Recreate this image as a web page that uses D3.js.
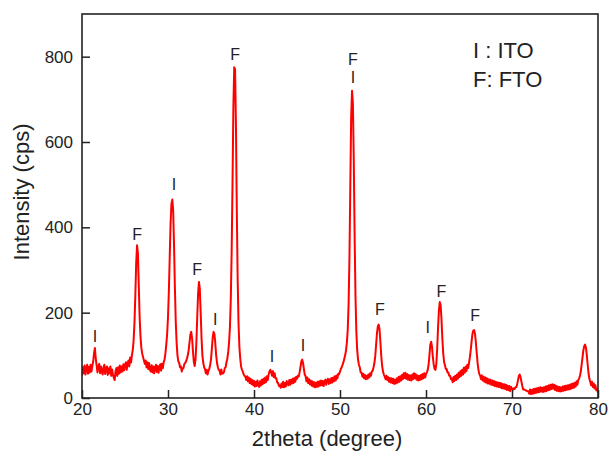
<!DOCTYPE html>
<html>
<head>
<meta charset="utf-8">
<script src="https://cdn.jsdelivr.net/npm/d3@7"></script>
<style>
  html, body { margin: 0; padding: 0; background: #fff; }
  svg { display: block; font-family: Arial, "Liberation Sans", sans-serif; }
</style>
</head>
<body>
<div id="chart"></div>
<script>
const scanStart = 20;   // 2theta of first sample (degree)
const scanStep = 0.1;   // sampling step (degree)
const intensity = [
  52,72,58,76,55,70,78,57,73,60,
  78,62,75,85,105,117,92,76,60,73,
  80,58,74,63,55,72,78,56,70,74,
  54,70,58,74,52,67,55,47,42,63,
  70,52,72,57,76,60,74,62,79,65,
  77,84,66,81,88,74,95,83,100,112,
  135,175,240,315,358,340,265,190,145,118,
  104,96,88,80,88,72,84,68,82,66,
  62,77,60,74,58,72,78,61,75,59,
  73,79,64,80,70,84,90,105,125,150,
  190,250,330,410,455,465,440,360,260,180,
  130,100,86,82,72,74,62,70,70,80,
  82,86,92,100,112,130,148,155,140,110,
  85,75,90,130,190,245,272,255,200,140,
  100,82,72,68,58,66,55,64,68,78,
  90,115,142,155,150,128,100,82,72,66,
  64,55,67,57,58,60,70,72,84,92,
  108,130,165,230,340,500,680,775,770,640,
  440,280,175,120,92,74,66,62,55,52,
  50,42,51,39,48,35,45,33,42,30,
  40,27,38,28,41,30,26,39,29,43,
  32,45,35,48,37,51,42,55,62,66,
  60,52,63,49,58,46,46,36,36,28,
  30,24,34,26,38,25,35,27,40,33,
  30,42,31,43,34,45,35,47,38,50,
  45,52,50,60,72,85,90,82,68,55,
  51,39,48,35,44,32,41,29,39,27,
  37,25,36,26,38,27,39,29,41,30,
  40,28,39,43,31,41,45,33,44,35,
  47,36,48,39,51,41,53,46,57,56,
  62,68,72,78,84,92,100,112,130,160,
  220,330,500,660,720,690,560,380,240,155,
  112,90,78,72,60,60,50,57,46,54,
  44,52,45,55,48,58,52,62,64,72,
  82,98,125,152,168,172,160,130,98,75,
  62,55,50,44,52,42,49,38,47,36,
  46,35,45,33,43,34,46,36,49,38,
  51,41,54,44,58,47,59,45,56,43,
  54,42,53,41,55,44,58,46,56,43,
  53,41,52,42,54,44,56,46,58,48,
  56,60,66,78,100,125,132,120,95,78,
  68,66,80,115,165,205,225,218,185,140,
  105,85,77,68,68,60,60,52,52,44,
  46,37,49,40,52,42,55,45,59,49,
  63,52,66,55,71,59,73,63,78,70,
  82,95,112,132,150,158,159,150,130,105,
  82,66,56,52,44,53,41,50,38,48,
  36,46,34,44,33,43,31,41,30,40,
  28,38,27,37,26,36,25,35,23,33,
  22,32,21,31,19,29,18,28,16,26,
  21,19,23,21,25,25,32,42,52,55,
  48,38,28,20,20,19,18,17,16,16,
  10,20,9,19,10,21,11,22,12,23,
  13,24,14,25,15,24,14,25,15,27,
  16,28,18,30,19,31,21,32,22,31,
  19,29,17,27,16,26,15,25,16,27,
  17,28,18,29,19,30,20,31,21,33,
  23,34,24,36,27,39,31,42,45,52,
  62,78,95,112,122,125,118,100,78,58,
  45,38,30,38,26,34,22,30,18,21,
  12
];

// Peak phase labels: position (2theta), label text, intensity level of label baseline
const peakLabelTheta = [21.5, 26.4, 30.7, 33.4, 35.5, 37.8, 42.1, 45.7, 51.5, 51.5, 54.65, 60.2, 61.8, 65.7];
const peakLabelText  = ["I", "F", "I", "F", "I", "F", "I", "I", "F", "I", "F", "I", "F", "F"];
const peakLabelLevel = [131, 370, 487, 288, 171, 792, 84, 110, 780, 738, 195, 152, 237, 180];

const xTicks = [20, 30, 40, 50, 60, 70, 80];
const yTicks = [0, 200, 400, 600, 800];
const legendLines = ["I : ITO", "F: FTO"];

// ---- Layout ----
const W = 609, H = 455;
const margin = { left: 82, right: 11, top: 14, bottom: 57 };
const iw = W - margin.left - margin.right;
const ih = H - margin.top - margin.bottom;

const svg = d3.select("#chart").append("svg").attr("width", W).attr("height", H);
const g = svg.append("g").attr("transform", `translate(${margin.left},${margin.top})`);

const x = d3.scaleLinear().domain([20, 80]).range([0, iw]);
const y = d3.scaleLinear().domain([0, 900]).range([ih, 0]);

const points = intensity.map((v, i) => [scanStart + i * scanStep, v]);

g.append("clipPath").attr("id", "clip").append("rect").attr("width", iw).attr("height", ih);

g.append("path")
  .datum(points)
  .attr("clip-path", "url(#clip)")
  .attr("fill", "none")
  .attr("stroke", "#ff0000")
  .attr("stroke-width", 2)
  .attr("stroke-linejoin", "round")
  .attr("d", d3.line().x(d => x(d[0])).y(d => y(d[1])));

// Axes (ticks inside)
const xAxis = g.append("g").attr("transform", `translate(0,${ih})`)
  .call(d3.axisBottom(x).tickValues(xTicks).tickSize(-8).tickPadding(5).tickFormat(d3.format("d")));
const yAxis = g.append("g")
  .call(d3.axisLeft(y).tickValues(yTicks).tickSize(-8).tickPadding(9).tickFormat(d3.format("d")));

[xAxis, yAxis].forEach(a => {
  a.select(".domain").remove();
  a.selectAll(".tick line").attr("stroke", "#222").attr("stroke-width", 1.5);
  a.selectAll(".tick text").attr("fill", "#222").style("font-size", "17px")
    .style("font-family", "Arial, 'Liberation Sans', sans-serif");
});
xAxis.selectAll(".tick text").attr("dy", "0.71em");

// Frame
g.append("rect").attr("width", iw).attr("height", ih)
  .attr("fill", "none").attr("stroke", "#222").attr("stroke-width", 1.6);

// Peak labels
g.selectAll(".plabel").data(peakLabelTheta).enter().append("text")
  .attr("class", "plabel")
  .attr("x", (d) => x(d))
  .attr("y", (d, i) => y(peakLabelLevel[i]))
  .attr("text-anchor", "middle")
  .attr("fill", "#222")
  .style("font-size", "16px")
  .text((d, i) => peakLabelText[i]);

// Legend text
g.selectAll(".legend").data(legendLines).enter().append("text")
  .attr("class", "legend")
  .attr("x", 391)
  .attr("y", (d, i) => 44 + i * 29)
  .attr("fill", "#222")
  .style("font-size", "22px")
  .text(d => d);

// Axis titles
svg.append("text")
  .attr("x", 327).attr("y", 446)
  .attr("text-anchor", "middle").attr("fill", "#222")
  .style("font-size", "22px")
  .text("2theta (degree)");

svg.append("text")
  .attr("transform", "translate(29,192) rotate(-90)")
  .attr("text-anchor", "middle").attr("fill", "#222")
  .style("font-size", "22px")
  .text("Intensity (cps)");
</script>
</body>
</html>
